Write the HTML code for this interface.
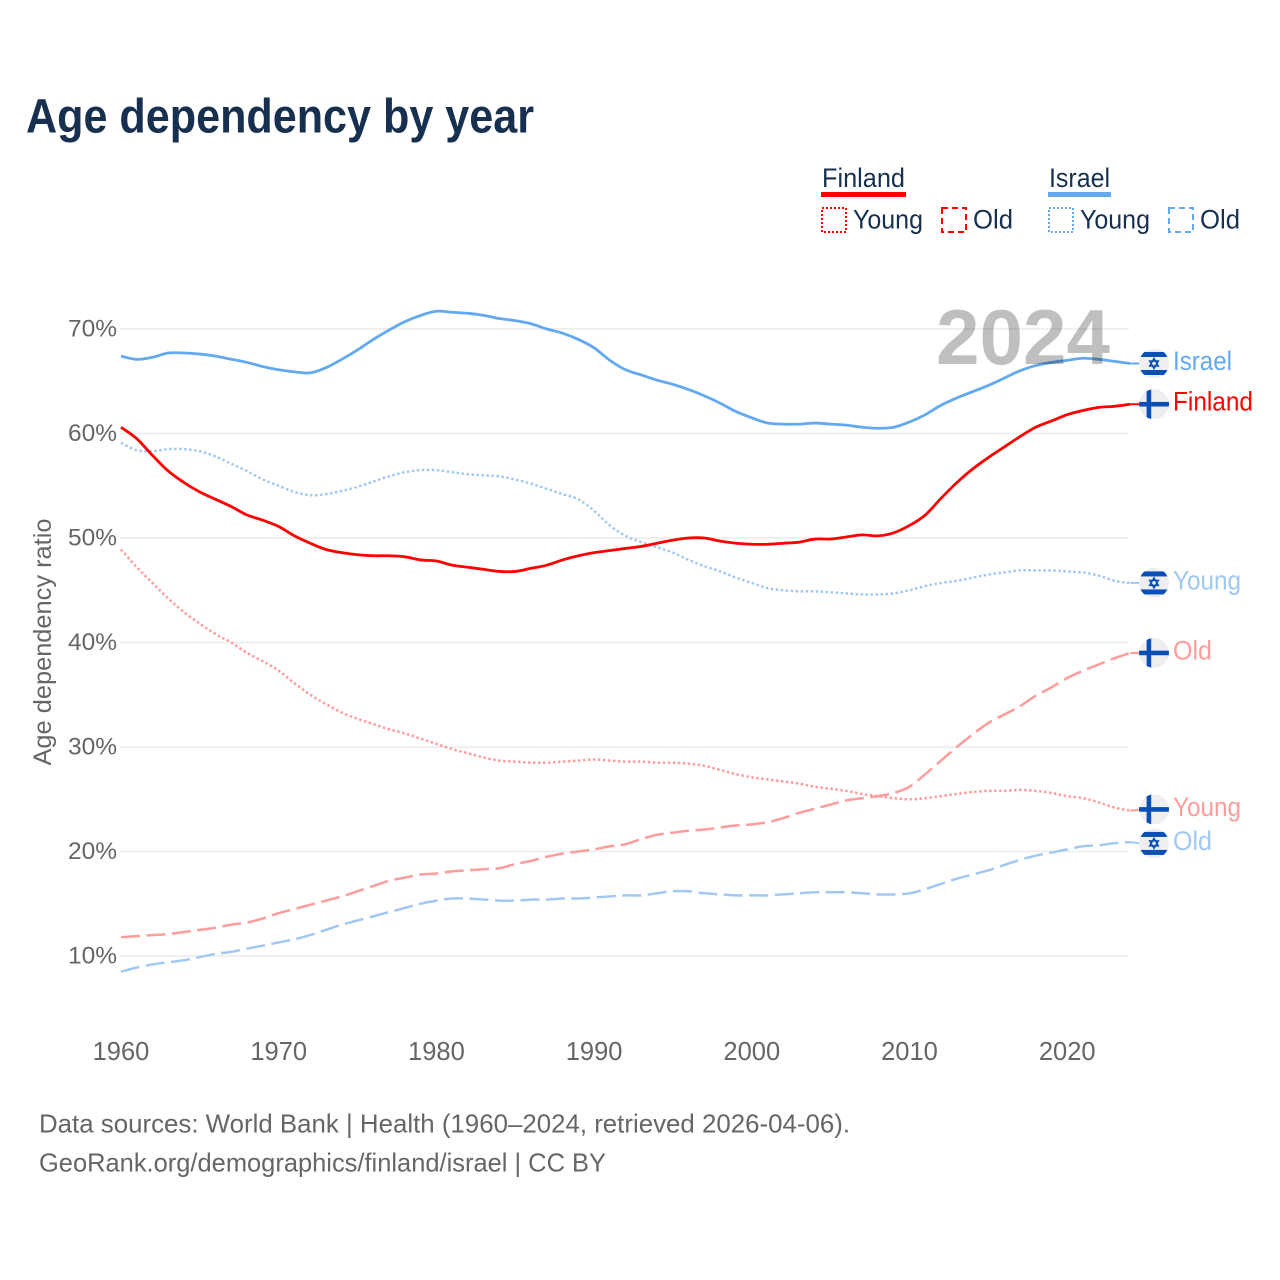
<!DOCTYPE html>
<html lang="en">
<head>
<meta charset="utf-8">
<title>Age dependency by year</title>
<style>
html,body{margin:0;padding:0;background:#fff;width:1280px;height:1280px;overflow:hidden}
svg{display:block}
text{font-family:"Liberation Sans",sans-serif}
</style>
</head>
<body>
<svg id="chart" width="1280" height="1280" viewBox="0 0 1280 1280" xmlns="http://www.w3.org/2000/svg">
  <defs>
    <clipPath id="flag-clip"><circle cx="0" cy="0" r="15"></circle></clipPath>
  </defs>
  <rect width="1280" height="1280" fill="#fff"></rect>
  <text x="26" y="132.5" font-size="48" font-weight="700" fill="#18304f" textLength="508" lengthAdjust="spacingAndGlyphs">Age dependency by year</text>

  <g font-size="27" fill="#18304f">
    <g>
      <text x="822" y="187" textLength="83" lengthAdjust="spacingAndGlyphs">Finland</text>
      <rect x="821" y="192" width="85" height="5" fill="#ff0000"></rect>
    </g>
    <g>
      <rect x="822" y="208" width="24" height="24" fill="none" stroke="#ff0000" stroke-width="2" stroke-dasharray="2 2"></rect>
      <text x="853" y="228.5" textLength="70" lengthAdjust="spacingAndGlyphs">Young</text>
    </g>
    <g>
      <rect x="942" y="208" width="24" height="24" fill="none" stroke="#ff0000" stroke-width="2" stroke-dasharray="6 4"></rect>
      <text x="973" y="228.5" textLength="40" lengthAdjust="spacingAndGlyphs">Old</text>
    </g>
    <g>
      <text x="1049" y="187" textLength="61" lengthAdjust="spacingAndGlyphs">Israel</text>
      <rect x="1048" y="192" width="63" height="5" fill="#63a9ef"></rect>
    </g>
    <g>
      <rect x="1049" y="208" width="24" height="24" fill="none" stroke="#63a9ef" stroke-width="2" stroke-dasharray="2 2"></rect>
      <text x="1080" y="228.5" textLength="70" lengthAdjust="spacingAndGlyphs">Young</text>
    </g>
    <g>
      <rect x="1169" y="208" width="24" height="24" fill="none" stroke="#63a9ef" stroke-width="2" stroke-dasharray="6 4"></rect>
      <text x="1200" y="228.5" textLength="40" lengthAdjust="spacingAndGlyphs">Old</text>
    </g>
  </g>

  <g id="grid"></g>
  <g id="y-ticks"></g>
  <g id="x-ticks"></g>
  <text transform="translate(51 642) rotate(-90)" text-anchor="middle" font-size="25" fill="#666" textLength="247" lengthAdjust="spacingAndGlyphs">Age dependency ratio</text>

  <g id="series"></g>
  <text x="936" y="364" font-size="78" font-weight="700" fill="#000" fill-opacity="0.25" textLength="174" lengthAdjust="spacingAndGlyphs">2024</text>
  <g id="end-labels"></g>

  <text x="39" y="1132.5" font-size="26" fill="#666" textLength="811" lengthAdjust="spacingAndGlyphs">Data sources: World Bank | Health (1960–2024, retrieved 2026-04-06).</text>
  <text x="39" y="1171.5" font-size="26" fill="#666" textLength="567" lengthAdjust="spacingAndGlyphs">GeoRank.org/demographics/finland/israel | CC BY</text>
</svg>

<script>
const startYear = 1960;
const yTickValues = [10, 20, 30, 40, 50, 60, 70];
const xTickValues = [1960, 1970, 1980, 1990, 2000, 2010, 2020];

const israelTotal = [
  67.4,67.1,67.3,67.7,67.7,67.6,67.4,67.1,66.8,66.4,
  66.1,65.9,65.8,66.3,67.1,68.0,69.0,69.9,70.7,71.3,
  71.7,71.6,71.5,71.3,71.0,70.8,70.5,70.0,69.6,69.0,
  68.2,67.0,66.1,65.6,65.1,64.7,64.2,63.6,62.9,62.1,
  61.5,61.0,60.9,60.9,61.0,60.9,60.8,60.6,60.5,60.6,
  61.1,61.8,62.7,63.4,64.0,64.6,65.3,66.0,66.5,66.8,
  67.0,67.2,67.1,66.9,66.7
];
const finlandTotal = [
  60.6,59.5,57.9,56.4,55.3,54.4,53.7,53.0,52.2,51.7,
  51.1,50.2,49.5,48.9,48.6,48.4,48.3,48.3,48.2,47.9,
  47.8,47.4,47.2,47.0,46.8,46.8,47.1,47.4,47.9,48.3,
  48.6,48.8,49.0,49.2,49.5,49.8,50.0,50.0,49.7,49.5,
  49.4,49.4,49.5,49.6,49.9,49.9,50.1,50.3,50.2,50.5,
  51.2,52.2,53.8,55.3,56.6,57.7,58.7,59.7,60.6,61.2,
  61.8,62.2,62.5,62.6,62.8
];
const israelYoung = [
  59.1,58.4,58.3,58.5,58.5,58.3,57.8,57.1,56.4,55.6,
  55.0,54.4,54.1,54.2,54.5,54.9,55.4,55.9,56.3,56.5,
  56.5,56.3,56.1,56.0,55.9,55.6,55.2,54.7,54.2,53.7,
  52.6,51.2,50.2,49.6,49.1,48.6,47.9,47.3,46.8,46.2,
  45.7,45.2,45.0,44.9,44.9,44.8,44.7,44.6,44.6,44.7,
  45.0,45.4,45.7,45.9,46.2,46.5,46.7,46.9,46.9,46.9,
  46.8,46.7,46.4,45.9,45.7
];
const finlandOld = [
  11.8,11.9,12.0,12.1,12.3,12.5,12.7,13.0,13.2,13.6,
  14.1,14.5,14.9,15.3,15.7,16.2,16.7,17.2,17.5,17.8,
  17.9,18.1,18.2,18.3,18.4,18.8,19.1,19.5,19.8,20.0,
  20.2,20.5,20.7,21.2,21.6,21.8,22.0,22.1,22.3,22.5,
  22.6,22.8,23.2,23.7,24.1,24.5,24.9,25.1,25.3,25.6,
  26.2,27.4,28.7,30.0,31.2,32.3,33.1,33.9,34.9,35.7,
  36.6,37.3,37.9,38.5,39.0
];
const finlandYoung = [
  48.9,47.2,45.7,44.2,42.9,41.8,40.8,40.0,39.0,38.2,
  37.3,36.1,35.0,34.1,33.3,32.7,32.2,31.7,31.3,30.8,
  30.3,29.8,29.4,29.0,28.7,28.6,28.5,28.5,28.6,28.7,
  28.8,28.7,28.6,28.6,28.5,28.5,28.4,28.2,27.8,27.4,
  27.1,26.9,26.7,26.5,26.2,26.0,25.8,25.5,25.3,25.1,
  25.0,25.1,25.3,25.5,25.7,25.8,25.8,25.9,25.8,25.6,
  25.3,25.1,24.7,24.2,23.9
];
const israelOld = [
  8.5,8.9,9.2,9.4,9.6,9.9,10.2,10.4,10.7,11.0,
  11.3,11.6,12.0,12.5,13.0,13.4,13.8,14.2,14.6,15.0,
  15.3,15.5,15.5,15.4,15.3,15.3,15.4,15.4,15.5,15.5,
  15.6,15.7,15.8,15.8,16.0,16.2,16.2,16.0,15.9,15.8,
  15.8,15.8,15.9,16.0,16.1,16.1,16.1,16.0,15.9,15.9,
  16.0,16.4,16.9,17.4,17.8,18.2,18.7,19.2,19.6,19.9,
  20.2,20.5,20.6,20.8,20.9
];

const xScale = function (year) { return 121 + (year - startYear) * 15.77; };
const yScale = function (pct) { return 956 - (pct - 10) * 10.45; };

const NS = 'http://www.w3.org/2000/svg';
function make(tag, attrs, parent) {
  const node = document.createElementNS(NS, tag);
  for (const key in attrs) node.setAttribute(key, attrs[key]);
  parent.appendChild(node);
  return node;
}

const gridGroup = document.getElementById('grid');
const yTickGroup = document.getElementById('y-ticks');
yTickValues.forEach(function (v) {
  const line = make('line', { x1: 120, x2: 1129, y1: yScale(v), y2: yScale(v), stroke: '#ececec', 'stroke-width': 1.5 }, gridGroup);
  
  
  const label = make('text', { x: 117, y: yScale(v) + 7.5, 'text-anchor': 'end', 'font-size': 24.5, fill: '#666' }, yTickGroup);
  
  
  label.textContent = v + '%';
});

const xTickGroup = document.getElementById('x-ticks');
xTickValues.forEach(function (v) {
  const label = make('text', { x: xScale(v), y: 1060, 'text-anchor': 'middle', 'font-size': 25.5, fill: '#666' }, xTickGroup);
  
  
  label.textContent = String(v);
});

const seriesList = [
  { key: 'israel-old', label: 'Old', values: israelOld, color: '#a1c8f2', dash: '19 6.5', flag: 'il', width: 2.5 },
  { key: 'israel-young', label: 'Young', values: israelYoung, color: '#a1c8f2', dash: '2.5 2.5', flag: 'il', width: 2.5 },
  { key: 'finland-old', label: 'Old', values: finlandOld, color: '#ff9c9c', dash: '19 6.5', flag: 'fi', width: 2.5 },
  { key: 'finland-young', label: 'Young', values: finlandYoung, color: '#ff9c9c', dash: '2.5 2.5', flag: 'fi', width: 2.5 },
  { key: 'israel-total', label: 'Israel', values: israelTotal, color: '#63a9ef', dash: '', flag: 'il', width: 2.8 },
  { key: 'finland-total', label: 'Finland', values: finlandTotal, color: '#ff0000', dash: '', flag: 'fi', width: 2.8 }
];

const labelWidthFor = { Israel: 59, Finland: 80, Young: 68, Old: 39 };

/* Smooth path through the data points (Catmull-Rom converted to cubic Beziers). */
function smoothPath(values) {
  const pts = values.map(function (v, i) { return [xScale(startYear + i), yScale(v)]; });
  let d = 'M' + pts[0][0].toFixed(2) + ' ' + pts[0][1].toFixed(2);
  for (let i = 0; i < pts.length - 1; i++) {
    const p0 = pts[Math.max(i - 1, 0)];
    const p1 = pts[i];
    const p2 = pts[i + 1];
    const p3 = pts[Math.min(i + 2, pts.length - 1)];
    const c1x = p1[0] + (p2[0] - p0[0]) / 6;
    const c1y = p1[1] + (p2[1] - p0[1]) / 6;
    const c2x = p2[0] - (p3[0] - p1[0]) / 6;
    const c2y = p2[1] - (p3[1] - p1[1]) / 6;
    d += 'C' + c1x.toFixed(2) + ' ' + c1y.toFixed(2) + ' ' + c2x.toFixed(2) + ' ' + c2y.toFixed(2) + ' ' + p2[0].toFixed(2) + ' ' + p2[1].toFixed(2);
  }
  return d;
}

const seriesGroup = document.getElementById('series');
seriesList.forEach(function (s) {
  const attrs = { d: smoothPath(s.values), fill: 'none', stroke: s.color, 'stroke-width': s.width, 'stroke-linejoin': 'round' };
  if (s.dash) attrs['stroke-dasharray'] = s.dash;
  const line = make('path', attrs, seriesGroup);
  
  
});

/* End labels: start at each series' last value, then spread apart to avoid overlap. */
const minGap = 34;
const placed = seriesList.map(function (s) {
  const last = s.values[s.values.length - 1];
  return { s: s, endY: yScale(last), y: yScale(last) };
}).sort(function (a, b) { return a.endY - b.endY; });
for (let i = 1; i < placed.length; i++) {
  const gap = placed[i].y - placed[i - 1].y;
  if (gap < minGap) {
    const push = (minGap - gap) / 2;
    placed[i - 1].y -= push;
    placed[i].y += push;
  }
}

function drawFlag(parent, kind, cx, cy) {
  const g = make('g', { transform: 'translate(' + cx + ' ' + cy + ')' }, parent);
  
  
  const clip = make('g', { 'clip-path': 'url(#flag-clip)' }, g);
  make('circle', { cx: 0, cy: 0, r: 15, fill: '#eeeeee' }, clip);
  if (kind === 'il') {
    make('rect', { x: -15, y: -11.5, width: 30, height: 5, fill: '#0a4fb5' }, clip);
    make('rect', { x: -15, y: 6.5, width: 30, height: 5, fill: '#0a4fb5' }, clip);
    make('polygon', { points: '0,-5 4.3,2.5 -4.3,2.5', fill: 'none', stroke: '#0a4fb5', 'stroke-width': 1.5 }, clip);
    make('polygon', { points: '0,5 4.3,-2.5 -4.3,-2.5', fill: 'none', stroke: '#0a4fb5', 'stroke-width': 1.5 }, clip);
  } else {
    make('rect', { x: -15, y: -2.3, width: 30, height: 4.6, fill: '#0a4fb5' }, clip);
    make('rect', { x: -7.4, y: -15, width: 4.6, height: 30, fill: '#0a4fb5' }, clip);
  }
}

const endGroup = document.getElementById('end-labels');
placed.forEach(function (p) {
  const s = p.s;
  const endX = xScale(startYear + s.values.length - 1);
  const lead = make('line', { x1: endX, y1: p.endY, x2: 1142, y2: p.y, stroke: s.color, 'stroke-width': 2 }, endGroup);
  
  
  drawFlag(endGroup, s.flag, 1154, p.y);
  const text = make('text', { x: 1173, y: p.y + 6.5, 'font-size': 27, fill: s.color, textLength: labelWidthFor[s.label], lengthAdjust: 'spacingAndGlyphs' }, endGroup);
  
  
  text.textContent = s.label;
});
</script>
</body>
</html>
